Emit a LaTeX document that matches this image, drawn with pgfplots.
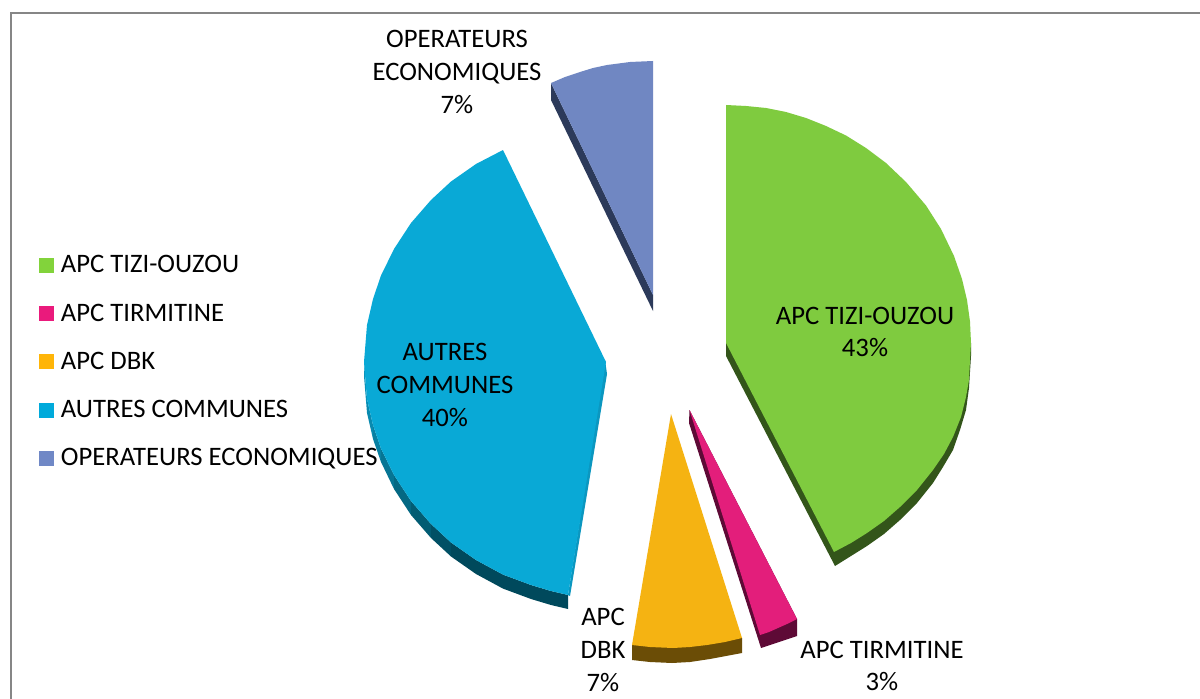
\documentclass[border=0pt]{standalone}
\usepackage{pgfplots}
\pgfplotsset{compat=1.18}
\usepackage{fontspec}
\setmainfont{Carlito}
\definecolor{cgreen}{HTML}{7FCB3F}
\definecolor{dgreen}{HTML}{33551A}
\definecolor{cpink}{HTML}{E31E7B}
\definecolor{dpink}{HTML}{5E0A36}
\definecolor{corange}{HTML}{F5B312}
\definecolor{dorange}{HTML}{6B4D06}
\definecolor{cblue}{HTML}{09A9D6}
\definecolor{dblueA}{HTML}{0A93BA}
\definecolor{dblueC}{HTML}{00495C}
\definecolor{dblueE}{HTML}{0B97C0}
\definecolor{cviolet}{HTML}{7087C2}
\definecolor{dviolet}{HTML}{2C3A5A}
\definecolor{lgreen}{HTML}{82D33B}
\definecolor{lpink}{HTML}{EA1A7C}
\definecolor{lorange}{HTML}{FFB508}
\definecolor{lblue}{HTML}{00AADB}
\definecolor{lviolet}{HTML}{7088C6}
\definecolor{frame}{HTML}{868686}
\begin{document}
\begin{tikzpicture}
\begin{axis}[
  scale only axis, width=900pt, height=524.25pt,
  xmin=0, xmax=1200, ymin=0, ymax=699, y dir=reverse,
  axis lines=none, ticks=none,
  legend cell align=left,
  legend style={at={(axis cs:39,253)}, anchor=north west, draw=none, fill=none,
    font=\fontsize{20}{24}\selectfont, row sep=17.7pt, inner sep=0pt, outer sep=0pt},
  legend image code/.code={\fill[#1,draw=none] (0pt,-5.6pt) rectangle (11.25pt,5.6pt);\path (14.25pt,0pt);},
]
% page extent
\addplot[fill=white, draw=none, forget plot] coordinates {(0,0) (1200,0) (1200,699) (0,699)} --cycle;
% frame
\addplot[frame, line width=1.6pt, forget plot] coordinates {(11,699) (11,13) (1200,13)};

% green side and face
\addplot[fill=dgreen, draw=none, forget plot] coordinates {(726,343) (726,356) (835,566) (851,556) (867,546) (884,534) (900,520) (917,503) (933,483) (943,467) (953,450) (960,430) (966,410) (969,388) (971,356) (971,343)} --cycle;
\addplot[fill=cgreen, draw=none, forget plot] coordinates {(726,343) (726,105) (746,106) (766,108) (786,112) (806,118) (826,126) (846,135.5) (866,148) (886,163) (906,182) (926,205.5) (941,229) (954,256) (962,279) (967,300) (970,321.5) (971,343) (970,360) (969,380) (966,397) (961,417) (953,437) (944,454) (933,470) (917,490) (900,507) (884,521) (867,533) (851,543) (834,552)} --cycle;

% pink
\addplot[fill=dpink, draw=none, forget plot] coordinates {(689.5,410) (689,423) (761,648) (779,642) (797,636) (797,619)} --cycle;
\addplot[fill=cpink, draw=none, forget plot] coordinates {(689.5,410) (797,619) (787,624) (778,628) (769,632) (760,635)} --cycle;

% orange
\addplot[fill=dorange, draw=none, forget plot] coordinates {(632,645) (632,660) (650,662) (672,663) (690,662) (710,659) (726,656) (742,653) (742,638)} --cycle;
\addplot[fill=corange, draw=none, forget plot] coordinates {(671,414) (742,638) (725,642) (707,645) (690,647) (673,648) (650,647) (632,645)} --cycle;

% blue sides and face
\addplot[fill=dblueE, draw=none, forget plot] coordinates {(605,360) (607,374) (570,596) (568,595)} --cycle;
\addplot[fill=dblueC!0!dblueA, draw=none, forget plot] coordinates {(364,362) (367,399) (367,413) (364,376)} --cycle;
\addplot[fill=dblueC!12!dblueA, draw=none, forget plot] coordinates {(367,399) (373,425) (373,439) (367,413)} --cycle;
\addplot[fill=dblueC!25!dblueA, draw=none, forget plot] coordinates {(373,425) (381,448.5) (381,462) (373,439)} --cycle;
\addplot[fill=dblueC!40!dblueA, draw=none, forget plot] coordinates {(381,448.5) (394,475) (394,489) (381,462)} --cycle;
\addplot[fill=dblueC!58!dblueA, draw=none, forget plot] coordinates {(394,475) (411,501) (411,515) (394,489)} --cycle;
\addplot[fill=dblueC!75!dblueA, draw=none, forget plot] coordinates {(411,501) (431,524) (431,538) (411,515)} --cycle;
\addplot[fill=dblueC!90!dblueA, draw=none, forget plot] coordinates {(431,524) (451,542.5) (451,556.5) (431,538)} --cycle;
\addplot[fill=dblueC, draw=none, forget plot] coordinates {(451,542.5) (476,560) (503,574.6) (531,585) (551,591) (568,595) (568,609) (551,605) (531,599) (503,588.6) (476,574) (451,556.5)} --cycle;
\addplot[fill=cblue, draw=none, forget plot] coordinates {(606,362) (503,150) (476,164) (451,181.5) (431,200) (411,223) (394,249) (381,275.5) (373,299) (367,325) (364,362) (367,399) (373,425) (381,448.5) (394,475) (411,501) (431,524) (451,542.5) (476,560) (503,574.6) (531,585) (551,591) (568,595)} --cycle;

% violet
\addplot[fill=dviolet, draw=none, forget plot] coordinates {(551,83) (551,100) (653,311) (653,295)} --cycle;
\addplot[fill=cviolet, draw=none, forget plot] coordinates {(653,295) (653,61) (630,62) (607,65) (593,68) (580,72) (565,77) (551,83)} --cycle;

\addlegendimage{fill=lgreen}\addlegendentry{APC TIZI-OUZOU}
\addlegendimage{fill=lpink}\addlegendentry{APC TIRMITINE}
\addlegendimage{fill=lorange}\addlegendentry{APC DBK}
\addlegendimage{fill=lblue}\addlegendentry{AUTRES COMMUNES}
\addlegendimage{fill=lviolet}\addlegendentry{OPERATEURS ECONOMIQUES}

\tikzset{lab/.style={align=center, font=\fontsize{20}{24.6}\selectfont, inner sep=0pt}}
\node[lab] at (axis cs:865,332) {APC TIZI-OUZOU\\43\%};
\node[lab] at (axis cs:445,385) {AUTRES\\COMMUNES\\40\%};
\node[lab] at (axis cs:457,72) {OPERATEURS\\ECONOMIQUES\\7\%};
\node[lab] at (axis cs:603,650) {APC\\DBK\\7\%};
\node[lab] at (axis cs:882,666) {APC TIRMITINE\\3\%};
\end{axis}
\end{tikzpicture}
\end{document}
